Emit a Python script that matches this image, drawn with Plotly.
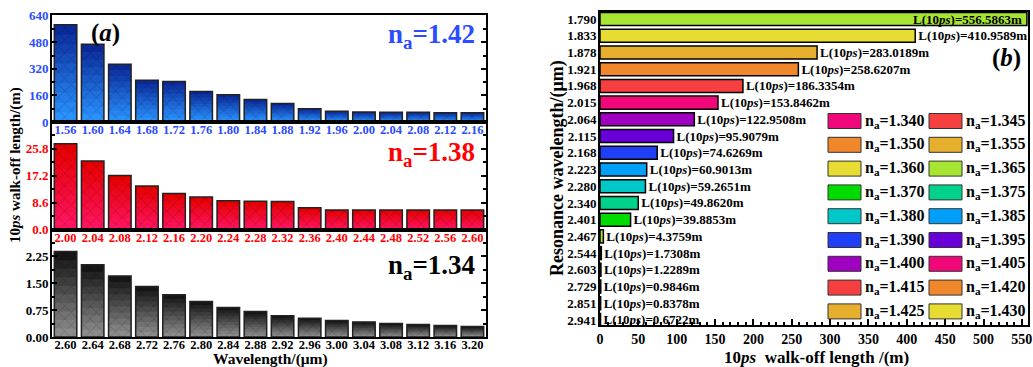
import plotly.graph_objects as go

W, H = 1033, 367
FONT = "Liberation Serif, Times New Roman, serif"

# ---------------- data: panel (a) ----------------
wl_142 = ["1.56", "1.60", "1.64", "1.68", "1.72", "1.76", "1.80", "1.84",
          "1.88", "1.92", "1.96", "2.00", "2.04", "2.08", "2.12", "2.16"]
len_142 = [586, 468, 348, 252, 244, 184, 164, 136, 112, 80, 64, 60, 58, 58, 56, 56]

wl_138 = ["2.00", "2.04", "2.08", "2.12", "2.16", "2.20", "2.24", "2.28",
          "2.32", "2.36", "2.40", "2.44", "2.48", "2.52", "2.56", "2.60"]
len_138 = [27.4, 21.9, 17.3, 13.9, 11.5, 10.4, 9.2, 9.1, 9.0, 7.0, 6.3, 6.3, 6.3, 6.3, 6.3, 6.3]

wl_134 = ["2.60", "2.64", "2.68", "2.72", "2.76", "2.80", "2.84", "2.88",
          "2.92", "2.96", "3.00", "3.04", "3.08", "3.12", "3.16", "3.20"]
len_134 = [2.38, 2.01, 1.70, 1.41, 1.18, 0.99, 0.825, 0.71, 0.59, 0.525, 0.46, 0.42,
           0.375, 0.35, 0.32, 0.29]

# ---------------- data: panel (b) ----------------
res_wl = ["1.790", "1.833", "1.878", "1.921", "1.968", "2.015", "2.064", "2.115", "2.168",
          "2.223", "2.280", "2.340", "2.401", "2.467", "2.544", "2.603", "2.729", "2.851", "2.941"]
walkoff = [556.5863, 410.9589, 283.0189, 258.6207, 186.3354, 153.8462, 122.9508, 95.9079,
           74.6269, 60.9013, 59.2651, 49.8620, 39.8853, 4.3759, 1.7308, 1.2289, 0.9846,
           0.8378, 0.6722]
bar_colors = ["#A6E632", "#E6DC32", "#E6AF2E", "#F0872A", "#F5403F", "#F0087A", "#A000C0",
              "#6A00D8", "#2040F5", "#00A0FA", "#00C8C8", "#00D28C", "#00DC00", "#A6E632",
              "#E6DC32", "#E6AF2E", "#F0872A", "#F5403F", "#F0087A"]
legend_na = ["1.340", "1.345", "1.350", "1.355", "1.360", "1.365", "1.370", "1.375", "1.380",
             "1.385", "1.390", "1.395", "1.400", "1.405", "1.415", "1.420", "1.425", "1.430"]
legend_colors = ["#F0087A", "#F5403F", "#F0872A", "#E6AF2E", "#E6DC32", "#A6E632", "#00DC00",
                 "#00D28C", "#00C8C8", "#00A0FA", "#2040F5", "#6A00D8", "#A000C0", "#F0087A",
                 "#F5403F", "#F0872A", "#E6AF2E", "#E6DC32"]


def px(x):
    return x / W


def py(y):
    return 1 - y / H


def lerp(c1, c2, t):
    a = [int(c1[i:i + 2], 16) for i in (1, 3, 5)]
    b = [int(c2[i:i + 2], 16) for i in (1, 3, 5)]
    return "rgb(%d,%d,%d)" % tuple(round(a[k] + (b[k] - a[k]) * t) for k in range(3))


fig = go.Figure()

panels = [
    dict(x=wl_142, y=len_142, ax="", top=14.7, bot=122, c_top="#0a2a9a", c_bot="#2a92ff",
         tick="#2b4cff", rng=[0, 646], dtick=160, fmt="d", label="1.42", ly=36.5),
    dict(x=wl_138, y=len_138, ax="2", top=122, bot=229.7, c_top="#e60000", c_bot="#ff1460",
         tick="#ff0000", rng=[0, 34.3], dtick=8.6, fmt=".1f", label="1.38", ly=154),
    dict(x=wl_134, y=len_134, ax="3", top=229.7, bot=337, c_top="#161616", c_bot="#8c8c8c",
         tick="#000000", rng=[0, 2.99], dtick=0.75, fmt=".2f", label="1.34", ly=266.5),
]

NSTEP = 10
annotations = []
for p in panels:
    xa, ya = "x" + p["ax"], "y" + p["ax"]
    for k in range(NSTEP):
        f = 1 - k / NSTEP
        fig.add_trace(go.Bar(
            x=p["x"], y=[v * f for v in p["y"]], xaxis=xa, yaxis=ya, width=0.83,
            marker=dict(color=lerp(p["c_top"], p["c_bot"], k / (NSTEP - 1)), line=dict(width=0)),
            showlegend=False, hoverinfo="skip"))
    fig.add_trace(go.Bar(
        x=p["x"], y=p["y"], xaxis=xa, yaxis=ya, width=0.83, showlegend=False,
        marker=dict(color="rgba(0,0,0,0)", line=dict(color="#222222", width=1.5),
                    pattern=dict(shape="x", fgcolor="rgba(0,0,0,0.55)", size=9,
                                 solidity=0.12, fillmode="overlay"))))
    dom_y = [py(p["bot"]), py(p["top"])]
    fig.layout["xaxis" + p["ax"]] = dict(
        domain=[px(52), px(486)], anchor=ya, type="category", tickmode="linear", dtick=1,
        showline=True, linecolor="black", linewidth=2, mirror=True, ticks="", automargin=False,
        tickfont=dict(size=12.5, color=p["tick"], weight="bold"), ticklabeloverflow="allow",
        ticklabelstandoff=-5, showgrid=False, zeroline=False)
    fig.layout["yaxis" + p["ax"]] = dict(
        domain=dom_y, anchor=xa, range=p["rng"], tick0=0, dtick=p["dtick"], tickformat=p["fmt"],
        showline=True, linecolor="black", linewidth=2, mirror="ticks", ticks="inside", ticklen=5,
        tickwidth=1.5, tickcolor="black", automargin=False, ticklabeloverflow="allow",
        ticklabelstandoff=-1,
        minor=dict(ticks="inside", ticklen=3, dtick=p["dtick"] / 2, tickcolor="black",
                   showgrid=False),
        tickfont=dict(size=13, color=p["tick"], weight="bold"), showgrid=False, zeroline=False)
    annotations.append(dict(
        text="n<sub>a</sub>=" + p["label"], xref="paper", yref="paper", x=px(477),
        y=py(p["ly"]), xanchor="right", yanchor="middle", showarrow=False,
        font=dict(size=27, color=p["tick"], weight="bold")))

# panel (b)
texts = ["L(10<i>ps</i>)=%.4fm" % v for v in walkoff]
i_max = walkoff.index(max(walkoff))
fig.add_trace(go.Bar(
    x=walkoff, y=res_wl, orientation="h", xaxis="x4", yaxis="y4", width=0.78,
    marker=dict(color=bar_colors, line=dict(color="black", width=1.5)),
    text=texts, textposition=["none" if i == i_max else "outside" for i in range(len(walkoff))],
    constraintext="none", cliponaxis=False, textangle=0,
    textfont=dict(size=13, color="black", weight="bold"), showlegend=False))
# label of the longest bar sits inside, at its end
annotations.append(dict(text=texts[i_max], xref="x4", x=walkoff[i_max], xshift=-3, yref="y4",
                        y=i_max, xanchor="right", yanchor="middle", showarrow=False,
                        font=dict(size=13, color="black", weight="bold")))

fig.layout.xaxis4 = dict(
    domain=[px(600), px(1028)], anchor="y4", range=[0, 558], dtick=50, tick0=0,
    showline=True, linecolor="black", linewidth=2, mirror=True, ticks="inside", ticklen=6,
    tickwidth=1.5, tickcolor="black", automargin=False, ticklabeloverflow="allow",
    ticklabelstandoff=0,
    minor=dict(ticks="inside", ticklen=3, dtick=10, tickcolor="black", showgrid=False),
    tickfont=dict(size=14, color="black", weight="bold"), showgrid=False, zeroline=False)
fig.layout.yaxis4 = dict(
    domain=[py(325), py(12)], anchor="x4", type="category", range=[18.3, -0.42],
    tickmode="linear", dtick=1, automargin=False, ticklabeloverflow="allow",
    ticklabelstandoff=-1,
    showline=True, linecolor="black", linewidth=2, mirror=True, ticks="",
    tickfont=dict(size=13, color="black", weight="bold"), showgrid=False, zeroline=False)

# legend for panel (b), 2 columns
shapes = []
for i, (na, col) in enumerate(zip(legend_na, legend_colors)):
    row, c = i // 2, i % 2
    yc = 121 + 23.8 * row
    x0 = 828 if c == 0 else 929
    shapes.append(dict(type="rect", xref="paper", yref="paper", x0=px(x0), x1=px(x0 + 33),
                       y0=py(yc + 7.5), y1=py(yc - 7.5), fillcolor=col,
                       line=dict(color="#333333", width=1)))
    annotations.append(dict(text="n<sub>a</sub>=" + na, xref="paper", yref="paper",
                            x=px(x0 + 35), y=py(yc), xanchor="left", yanchor="middle",
                            showarrow=False, font=dict(size=16, color="black", weight="bold")))

extra = [
    dict(text="(<i>a</i>)", x=px(105), y=py(33)),
    dict(text="(<i>b</i>)", x=px(1006), y=py(58)),
    dict(text="10<i>ps</i> walk-off length/(m)", x=px(15), y=py(165), textangle=-90,
         font=dict(size=15)),
    dict(text="Wavelength/(μm)", x=px(270), y=py(359), font=dict(size=15.5)),
    dict(text="Resonance wavelength/(μm)", x=px(557), y=py(168), textangle=-90,
         font=dict(size=18)),
    dict(text="10<i>ps</i>  walk-off length /(m)", x=px(816), y=py(357.5), font=dict(size=17)),
]
for a in extra:
    a.update(xref="paper", yref="paper", xanchor="center", yanchor="middle", showarrow=False)
    f = a.get("font", dict(size=25))
    f.update(color="black", weight="bold")
    a["font"] = f
annotations += extra

fig.update_layout(
    width=W, height=H, margin=dict(l=0, r=0, t=0, b=0, autoexpand=False), barmode="overlay",
    paper_bgcolor="white", plot_bgcolor="white",
    font=dict(family=FONT, color="black", weight="bold"),
    annotations=annotations, shapes=shapes, showlegend=False,
)

fig.write_html("out.html")
